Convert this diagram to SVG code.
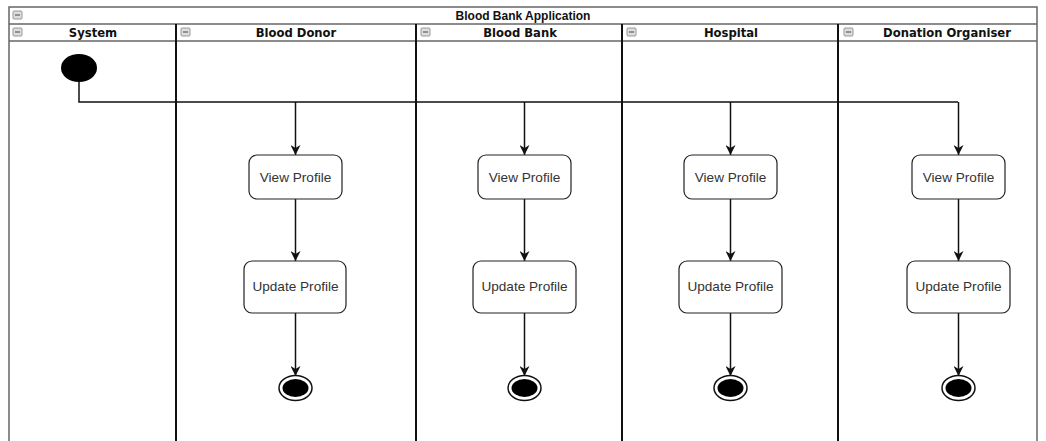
<svg xmlns="http://www.w3.org/2000/svg" width="1046" height="441" viewBox="0 0 1046 441">
  <style>
    .frame { fill: none; stroke: #666; stroke-width: 1.5; }
    .divider { stroke: #111; stroke-width: 2; }
    .title { font-family: "Liberation Sans", Arial, sans-serif; font-size: 12px; font-weight: bold; fill: #111; text-anchor: middle; }
    .head { font-family: "DejaVu Sans", Verdana, sans-serif; font-size: 11.6px; font-weight: bold; fill: #111; text-anchor: middle; }
    .action { fill: #fff; stroke: #222; stroke-width: 1.2; }
    .label { font-family: "Liberation Sans", Arial, sans-serif; font-size: 13.6px; fill: #333; text-anchor: middle; }
    .flow { fill: none; stroke: #111; stroke-width: 1.5; }
    .icon { fill: #ddd; stroke: #999; stroke-width: 1; }
    .icon-bar { stroke: #777; stroke-width: 1.5; }
  </style>
  <defs>
    <marker id="arrow" viewBox="0 0 10 10" refX="10" refY="5" markerWidth="10" markerHeight="10" markerUnits="userSpaceOnUse" orient="auto">
      <path d="M0,0 L10,5 L0,10 L3,5 Z" fill="#111"/>
    </marker>
    <g id="collapse">
      <rect class="icon" x="0" y="0" width="9" height="8" rx="1"/>
      <line class="icon-bar" x1="2" y1="4" x2="7" y2="4"/>
    </g>
  </defs>
  <rect width="1046" height="441" fill="#fff"/>

  <!-- pool frame and header rows -->
  <g id="pool">
    <rect class="frame" x="9" y="7" width="1028" height="440"/>
    <line class="frame" x1="9" y1="24" x2="1037" y2="24"/>
    <line class="frame" x1="9" y1="41" x2="1037" y2="41"/>
    <use href="#collapse" x="13" y="11"/>
    <text class="title" x="523" y="20">Blood Bank Application</text>
  </g>

  <!-- swimlanes -->
  <g id="lane-system">
    <use href="#collapse" x="13" y="28"/>
    <text class="head" x="93" y="37">System</text>
  </g>
  <g id="lane-donor">
    <line class="divider" x1="176" y1="24" x2="176" y2="441"/>
    <use href="#collapse" x="181" y="28"/>
    <text class="head" x="296" y="37">Blood Donor</text>
  </g>
  <g id="lane-bank">
    <line class="divider" x1="416" y1="24" x2="416" y2="441"/>
    <use href="#collapse" x="421" y="28"/>
    <text class="head" x="520" y="37">Blood Bank</text>
  </g>
  <g id="lane-hospital">
    <line class="divider" x1="622" y1="24" x2="622" y2="441"/>
    <use href="#collapse" x="627" y="28"/>
    <text class="head" x="731" y="37">Hospital</text>
  </g>
  <g id="lane-organiser">
    <line class="divider" x1="838" y1="24" x2="838" y2="441"/>
    <use href="#collapse" x="844" y="28"/>
    <text class="head" x="947" y="37">Donation Organiser</text>
  </g>

  <!-- connectors -->
  <g id="connectors">
    <polyline class="flow" points="79,82 79,102 958,102"/>
    <line class="flow" x1="295.5" y1="102" x2="295.5" y2="155" marker-end="url(#arrow)"/>
    <line class="flow" x1="524.5" y1="102" x2="524.5" y2="155" marker-end="url(#arrow)"/>
    <line class="flow" x1="730.5" y1="102" x2="730.5" y2="155" marker-end="url(#arrow)"/>
    <line class="flow" x1="958.5" y1="102" x2="958.5" y2="155" marker-end="url(#arrow)"/>

    <line class="flow" x1="295.5" y1="199" x2="295.5" y2="261" marker-end="url(#arrow)"/>
    <line class="flow" x1="524.5" y1="199" x2="524.5" y2="261" marker-end="url(#arrow)"/>
    <line class="flow" x1="730.5" y1="199" x2="730.5" y2="261" marker-end="url(#arrow)"/>
    <line class="flow" x1="958.5" y1="199" x2="958.5" y2="261" marker-end="url(#arrow)"/>

    <line class="flow" x1="295.5" y1="313" x2="295.5" y2="376" marker-end="url(#arrow)"/>
    <line class="flow" x1="524.5" y1="313" x2="524.5" y2="376" marker-end="url(#arrow)"/>
    <line class="flow" x1="730.5" y1="313" x2="730.5" y2="376" marker-end="url(#arrow)"/>
    <line class="flow" x1="958.5" y1="313" x2="958.5" y2="376" marker-end="url(#arrow)"/>
  </g>

  <!-- start node -->
  <g id="start">
    <ellipse cx="79" cy="68" rx="18" ry="14" fill="#000"/>
  </g>

  <!-- Blood Donor actions -->
  <g id="donor-view">
    <rect class="action" x="249" y="155" width="93" height="44" rx="8"/>
    <text class="label" x="295.5" y="182">View Profile</text>
  </g>
  <g id="donor-update">
    <rect class="action" x="244" y="261" width="102" height="52" rx="8"/>
    <text class="label" x="295.5" y="291">Update Profile</text>
  </g>
  <g id="donor-end">
    <ellipse cx="295.5" cy="388" rx="16.5" ry="12.5" fill="#fff" stroke="#111" stroke-width="1.5"/>
    <ellipse cx="295.5" cy="388" rx="13" ry="9" fill="#000"/>
  </g>

  <!-- Blood Bank actions -->
  <g id="bank-view">
    <rect class="action" x="478" y="155" width="93" height="44" rx="8"/>
    <text class="label" x="524.5" y="182">View Profile</text>
  </g>
  <g id="bank-update">
    <rect class="action" x="473" y="261" width="103" height="52" rx="8"/>
    <text class="label" x="524.5" y="291">Update Profile</text>
  </g>
  <g id="bank-end">
    <ellipse cx="524.5" cy="388" rx="16.5" ry="12.5" fill="#fff" stroke="#111" stroke-width="1.5"/>
    <ellipse cx="524.5" cy="388" rx="13" ry="9" fill="#000"/>
  </g>

  <!-- Hospital actions -->
  <g id="hospital-view">
    <rect class="action" x="684" y="155" width="93" height="44" rx="8"/>
    <text class="label" x="730.5" y="182">View Profile</text>
  </g>
  <g id="hospital-update">
    <rect class="action" x="679" y="261" width="103" height="52" rx="8"/>
    <text class="label" x="730.5" y="291">Update Profile</text>
  </g>
  <g id="hospital-end">
    <ellipse cx="730.5" cy="388" rx="16.5" ry="12.5" fill="#fff" stroke="#111" stroke-width="1.5"/>
    <ellipse cx="730.5" cy="388" rx="13" ry="9" fill="#000"/>
  </g>

  <!-- Donation Organiser actions -->
  <g id="organiser-view">
    <rect class="action" x="912" y="155" width="93" height="44" rx="8"/>
    <text class="label" x="958.5" y="182">View Profile</text>
  </g>
  <g id="organiser-update">
    <rect class="action" x="907" y="261" width="103" height="52" rx="8"/>
    <text class="label" x="958.5" y="291">Update Profile</text>
  </g>
  <g id="organiser-end">
    <ellipse cx="958.5" cy="388" rx="16.5" ry="12.5" fill="#fff" stroke="#111" stroke-width="1.5"/>
    <ellipse cx="958.5" cy="388" rx="13" ry="9" fill="#000"/>
  </g>
</svg>
